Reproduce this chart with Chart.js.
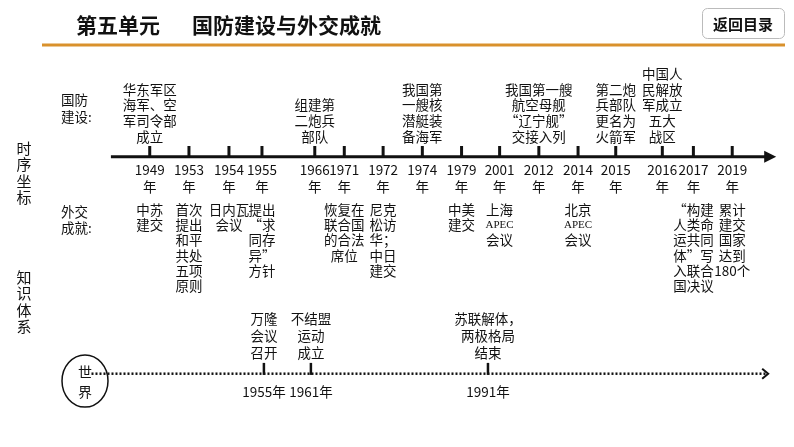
<!DOCTYPE html>
<html>
<head>
<meta charset="utf-8">
<script src="https://cdn.jsdelivr.net/npm/chart.js@4.4.1/dist/chart.umd.min.js"></script>
<style>
  html, body { margin: 0; padding: 0; background: #fff; }
  canvas { display: block; }
</style>
</head>
<body>
<canvas id="chart" width="794" height="447"></canvas>
<script>
// 时序坐标 (top timeline)
const years = ['1949', '1953', '1954', '1955', '1966', '1971', '1972', '1974', '1979', '2001', '2012', '2014', '2015', '2016', '2017', '2019']
const slots = [0, 1.01, 2.04, 2.89, 4.25, 5.01, 6.01, 7.02, 8.03, 9.01, 10.02, 11.03, 12, 13.2, 14, 15]

const defense = {
  '1949': ['华东军区', '海军、空', '军司令部', '成立'],
  '1966': ['组建第', '二炮兵', '部队'],
  '1974': ['我国第', '一艘核', '潜艇装', '备海军'],
  '2012': ['我国第一艘', '航空母舰', '“辽宁舰”', '交接入列'],
  '2015': ['第二炮', '兵部队', '更名为', '火箭军'],
  '2016': ['中国人', '民解放', '军成立', '五大', '战区']
}

const diplomacy = {
  '1949': ['中苏', '建交'],
  '1953': ['首次', '提出', '和平', '共处', '五项', '原则'],
  '1954': ['日内瓦', '会议'],
  '1955': ['提出', '“求', '同存', '异”', '方针'],
  '1971': ['恢复在', '联合国', '的合法', '席位'],
  '1972': ['尼克', '松访', '华；', '中日', '建交'],
  '1979': ['中美', '建交'],
  '2001': ['上海', 'APEC', '会议'],
  '2014': ['北京', 'APEC', '会议'],
  '2017': ['“构建', '人类命', '运共同', '体”写', '入联合', '国决议'],
  '2019': ['累计', '建交', '国家', '达到', '180个']
}

// 世界 (bottom timeline)
const worldYears = ['1955', '1961', '1991']
const worldSlots = [2.94, 4.15, 8.71]
const worldEvents = [['万隆', '会议', '召开'], ['不结盟', '运动', '成立'], ['苏联解体，', '两极格局', '结束']]

const mainY = 154
const worldY = 380
const lineStart = -1.0
const lineEnd = 15.9

const FONT = '"Noto Sans CJK SC", "Noto Sans", sans-serif'
const BODY = '13.5px ' + FONT

const textPlugin = {
  id: 'timelineText',
  afterDraw(chart) {
    const ctx = chart.ctx
    const x = chart.scales.x
    const y = chart.scales.y
    const px = v => x.getPixelForValue(v)
    const py = v => y.getPixelForValue(v)
    ctx.save()
    ctx.fillStyle = '#111'
    ctx.textBaseline = 'middle'

    // header
    ctx.textAlign = 'left'
    ctx.font = '600 21px ' + FONT
    ctx.fillText('第五单元', 76, 25)
    ctx.fillText('国防建设与外交成就', 192, 25)
    ctx.strokeStyle = '#d9912c'
    ctx.lineWidth = 3
    ctx.beginPath(); ctx.moveTo(42, 45); ctx.lineTo(785, 45); ctx.stroke()
    ctx.strokeStyle = '#bbb'
    ctx.lineWidth = 1
    ctx.beginPath(); ctx.roundRect(702.5, 8.5, 82, 30, 5); ctx.stroke()
    ctx.font = '600 15px ' + FONT
    ctx.textAlign = 'center'
    ctx.fillText('返回目录', 743, 24)

    // left labels
    ctx.font = '15px ' + FONT
    '时序坐标'.split('').forEach((c, i) => ctx.fillText(c, 24, 148 + i * 16.5))
    '知识体系'.split('').forEach((c, i) => ctx.fillText(c, 24, 277 + i * 16.5))
    ctx.font = BODY
    ctx.textAlign = 'left'
    ctx.fillText('国防', 61, 100); ctx.fillText('建设:', 61, 117)
    ctx.fillText('外交', 61, 212); ctx.fillText('成就:', 61, 228)
    ctx.textAlign = 'center'

    // years
    years.forEach((yr, i) => {
      ctx.fillText(yr, px(slots[i]), py(168))
      ctx.fillText('年', px(slots[i]), py(185))
    })
    // defense (bottom-aligned above line)
    Object.entries(defense).forEach(([yr, lines]) => {
      const cx = px(slots[years.indexOf(yr)])
      lines.forEach((t, j) => ctx.fillText(t, cx, py(133 - (lines.length - 1 - j) * 16.3)))
    })
    // diplomacy
    Object.entries(diplomacy).forEach(([yr, lines]) => {
      const cx = px(slots[years.indexOf(yr)])
      lines.forEach((t, j) => {
        ctx.font = (t === 'APEC' ? '11px "Liberation Serif", serif' : BODY)
        ctx.fillText(t, cx, py(209 + j * 16))
      })
    })
    ctx.font = BODY

    // top arrow head
    const ex = px(lineEnd), ey = py(mainY)
    ctx.beginPath(); ctx.moveTo(ex + 9, ey); ctx.lineTo(ex - 3, ey - 6); ctx.lineTo(ex - 3, ey + 6); ctx.closePath(); ctx.fill()

    // world
    worldEvents.forEach((lines, i) => {
      const cx = px(worldSlots[i])
      lines.forEach((t, j) => ctx.fillText(t, cx, py(323 + j * 17.5)))
      ctx.fillText(worldYears[i] + '年', cx, py(399))
    })
    const wx = px(lineEnd), wy = py(worldY)
    ctx.strokeStyle = '#111'; ctx.lineWidth = 2
    ctx.beginPath(); ctx.moveTo(wx - 5, wy - 5); ctx.lineTo(wx + 1, wy); ctx.lineTo(wx - 5, wy + 5); ctx.stroke()
    ctx.lineWidth = 1.5
    ctx.beginPath(); ctx.ellipse(85, 381, 23, 26, 0, 0, Math.PI * 2); ctx.stroke()
    ctx.font = '14px ' + FONT
    ctx.fillText('世', 85, 372); ctx.fillText('界', 85, 392)
    ctx.restore()
  }
}

const pxPerSlot = (740 - 144) / 15

new Chart(document.getElementById('chart'), {
  type: 'scatter',
  data: {
    datasets: [
      {
        data: [{ x: lineStart, y: mainY }, { x: lineEnd, y: mainY }],
        showLine: true, borderColor: '#111', borderWidth: 3, pointRadius: 0
      },
      {
        data: slots.map(s => ({ x: s, y: mainY - 5 })),
        pointStyle: 'line', rotation: 90, radius: 6, borderWidth: 3, borderColor: '#111'
      },
      {
        data: [{ x: -1.5, y: worldY }, { x: lineEnd, y: worldY }],
        showLine: true, borderColor: '#111', borderWidth: 2.5, borderDash: [2, 2], pointRadius: 0
      },
      {
        data: worldSlots.map(s => ({ x: s, y: worldY - 5 })),
        pointStyle: 'line', rotation: 90, radius: 6, borderWidth: 2.5, borderColor: '#111'
      }
    ]
  },
  options: {
    responsive: false,
    animation: false,
    events: [],
    layout: { padding: 0 },
    plugins: { legend: { display: false }, tooltip: { enabled: false } },
    scales: {
      x: { type: 'linear', display: false, min: -144 / pxPerSlot, max: (794 - 144) / pxPerSlot },
      y: { type: 'linear', display: false, min: 0, max: 447, reverse: true }
    }
  },
  plugins: [textPlugin]
})
</script>
</body>
</html>
